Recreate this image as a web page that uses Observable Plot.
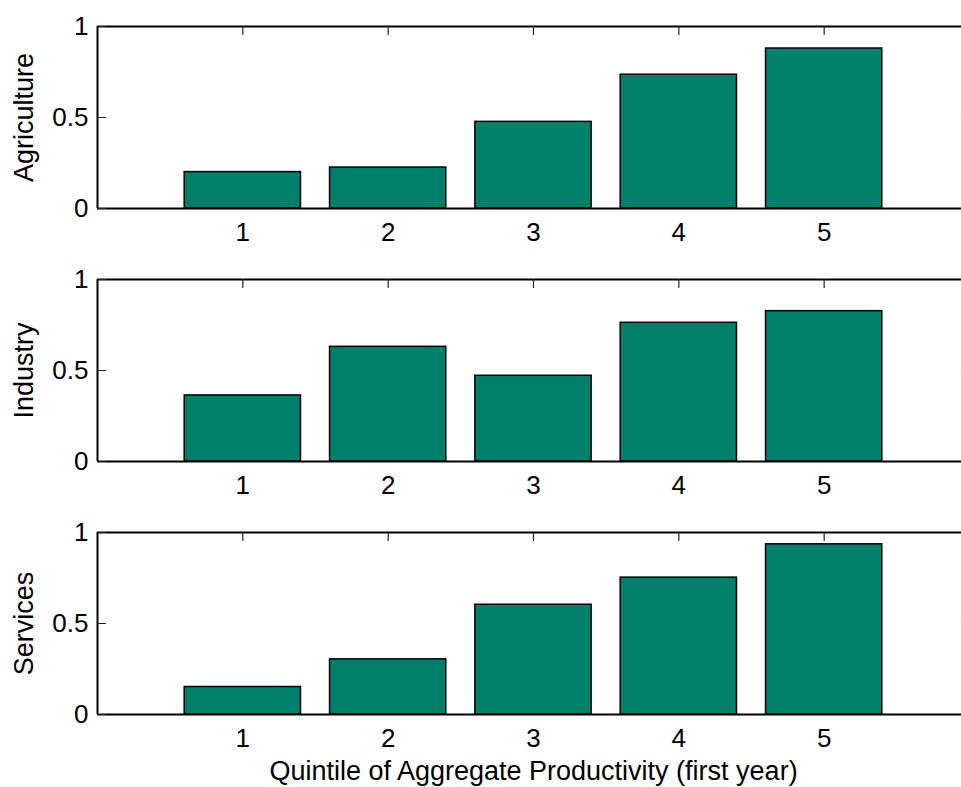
<!DOCTYPE html>
<html><head><meta charset="utf-8">
<script src="https://cdn.jsdelivr.net/npm/d3@7"></script>
<script src="https://cdn.jsdelivr.net/npm/@observablehq/plot@0.6"></script>
<style>
html,body{margin:0;padding:0;background:#fff;overflow:hidden;width:961px;height:787px}
#chart svg{display:block;overflow:hidden}
</style></head><body><div id="chart"></div>
<script>
// ---- data ----
const quintiles = [1, 2, 3, 4, 5];
const sectors = ["Agriculture", "Industry", "Services"];
const agriculture = [0.20, 0.225, 0.476, 0.735, 0.879];
const industry = [0.363, 0.630, 0.471, 0.762, 0.826];
const services = [0.151, 0.303, 0.603, 0.752, 0.935];
const yTicks = [0, 0.5, 1];
const xTitle = "Quintile of Aggregate Productivity (first year)";
const xDomain = [0, 6];
const yDomain = [0, 1];

// ---- styles ----
const barColor = "#00806A";
const barWidth = 0.8;
const font = "'Liberation Sans', Arial, Helvetica, sans-serif";
const tickShape = {draw(ctx, l) { ctx.moveTo(0, 0); ctx.lineTo(0, -l); }};

function panel(name, values, isLast) {
  const data = quintiles.map((q, i) => ({q, v: values[i]}));
  const h = isLast ? 281 : 253;
  const marks = [
    // bottom ticks (behind bars)
    Plot.vector(quintiles, {x: d => d, y: yDomain[0], length: 8, rotate: 0, anchor: "start", shape: tickShape, stroke: "#222", strokeWidth: 1.2}),
    Plot.rectY(data, {x1: d => d.q - barWidth / 2, x2: d => d.q + barWidth / 2, y1: 0, y2: "v", fill: barColor, stroke: "black", strokeWidth: 1.5}),
    // box
    Plot.ruleY([yDomain[0], yDomain[1]], {x1: xDomain[0], x2: xDomain[1], stroke: "black", strokeWidth: 2}),
    Plot.ruleX([xDomain[0], xDomain[1]], {y1: yDomain[0], y2: yDomain[1], stroke: "black", strokeWidth: 2}),
    // inward ticks
    Plot.vector(quintiles, {x: d => d, y: yDomain[1], length: 8, rotate: 180, anchor: "start", shape: tickShape, stroke: "#222", strokeWidth: 1.2}),
    Plot.vector(yTicks, {x: xDomain[0], y: d => d, length: 8, rotate: 90, anchor: "start", shape: tickShape, stroke: "#222", strokeWidth: 1.2}),
    Plot.vector(yTicks, {x: xDomain[1], y: d => d, length: 8, rotate: 270, anchor: "start", shape: tickShape, stroke: "#222", strokeWidth: 1.2}),
    // tick labels
    Plot.axisX({ticks: quintiles, tickSize: 0, tickPadding: 14, fontSize: 26, label: null, tickFormat: d => String(d)}),
    Plot.axisY({ticks: yTicks, tickSize: 0, tickPadding: 9, fontSize: 26, label: null, tickFormat: d => String(d)}),
    // y title
    Plot.text([name], {frameAnchor: "left", rotate: -90, dx: -73, fontSize: 27, textAnchor: "middle", lineAnchor: "middle"})
  ];
  if (isLast) {
    marks.push(Plot.text([xTitle], {x: d3.mean(xDomain), frameAnchor: "bottom", dy: 57, fontSize: 27, textAnchor: "middle", lineAnchor: "middle"}));
  }
  return Plot.plot({
    width: 961, height: h,
    marginLeft: 97, marginRight: 0, marginTop: 26, marginBottom: h - 26 - 182,
    x: {domain: xDomain, range: [97, 969], axis: null},
    y: {domain: yDomain, axis: null},
    style: {fontFamily: font, fontSize: "26px", color: "black", background: "white", overflow: "hidden"},
    marks
  });
}

const chart = document.getElementById("chart");
const series = [agriculture, industry, services];
sectors.forEach((s, i) => chart.appendChild(panel(s, series[i], i === sectors.length - 1)));
</script>
</body></html>
